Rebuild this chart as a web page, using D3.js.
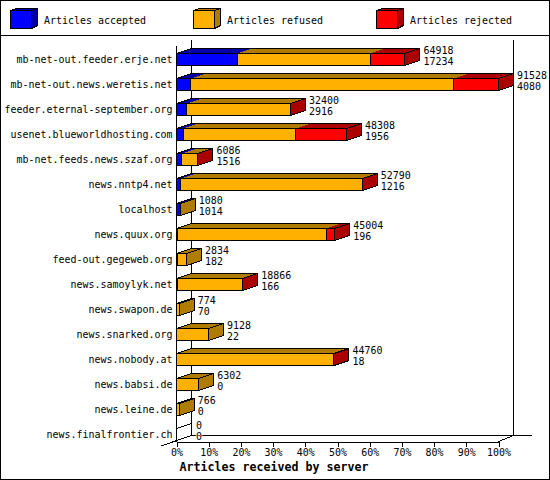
<!DOCTYPE html>
<html>
<head>
<meta charset="utf-8">
<script src="https://cdn.jsdelivr.net/npm/d3@7"></script>
<style>
    html, body { margin: 0; padding: 0; background: #fff; }
    svg { display: block; }
    text { font-family: "DejaVu Sans Mono", monospace; font-size: 11px; fill: #000; }
    .title { font-weight: bold; font-size: 12.5px; }
    .crisp { shape-rendering: crispEdges; }
</style>
</head>
<body>
<svg id="chart" width="550" height="480"></svg>
<script>
// Articles received by server, 3D stacked bars
const categories = [
    'mb-net-out.feeder.erje.net', 'mb-net-out.news.weretis.net', 'feeder.eternal-september.org',
    'usenet.blueworldhosting.com', 'mb-net.feeds.news.szaf.org', 'news.nntp4.net', 'localhost',
    'news.quux.org', 'feed-out.gegeweb.org', 'news.samoylyk.net', 'news.swapon.de',
    'news.snarked.org', 'news.nobody.at', 'news.babsi.de', 'news.leine.de', 'news.finalfrontier.ch'
];
const totals = [64918, 91528, 32400, 48308, 6086, 52790, 1080, 45004, 2834, 18866, 774, 9128, 44760, 6302, 766, 0];
const accepted = [17234, 4080, 2916, 1956, 1516, 1216, 1014, 196, 182, 166, 70, 22, 18, 0, 0, 0];
const refused = [37784, 74698, 29444, 31902, 4540, 51544, 66, 42408, 2652, 18670, 704, 9106, 44712, 6302, 766, 0];
const rejected = [9900, 12750, 40, 14450, 30, 30, 0, 2400, 0, 30, 0, 0, 30, 0, 0, 0];
const seriesNames = ['Articles accepted', 'Articles refused', 'Articles rejected'];
const seriesFill = ['#0000ff', '#ffb000', '#ff0000'];
const seriesDark = ['#0000aa', '#b07c00', '#aa0000'];
const xTicks = [0, 10, 20, 30, 40, 50, 60, 70, 80, 90, 100];

const dx = 15, dy = 5, barH = 12;
const plotLeft = 176.5, plotRight = 498.5, plotTop = 45.5, plotBottom = 441.5;

const svg = d3.select('#chart');
const maxTotal = d3.max(totals);
const x = d3.scaleLinear().domain([0, 100]).range([plotLeft, plotRight]);
const xv = d3.scaleLinear().domain([0, maxTotal]).range([plotLeft, plotRight]);
const y = d3.scalePoint().domain(categories).range([53.5, 428.5]);

const poly = pts => pts.map(p => p.join(',')).join(' ');

// outer frame and legend
const frame = svg.append('g').attr('class', 'crisp');
frame.append('rect').attr('x', 0.5).attr('y', 0.5).attr('width', 549).attr('height', 479)
    .attr('fill', '#fff').attr('stroke', '#000');
frame.append('line').attr('x1', 0).attr('x2', 550).attr('y1', 35.5).attr('y2', 35.5).attr('stroke', '#000');

const legendX = d3.scalePoint().domain(seriesNames).range([10.5, 376.5]);
const legend = svg.selectAll('.legend').data(seriesNames).join('g')
    .attr('class', 'legend crisp')
    .attr('transform', d => `translate(${legendX(d)},10.5)`);
legend.append('polygon')
    .attr('points', poly([[21, 0], [27, -2], [27, 15], [21, 18]]))
    .attr('fill', (d, i) => seriesDark[i]).attr('stroke', '#000');
legend.append('polygon')
    .attr('points', poly([[0, 0], [6, -2], [27, -2], [21, 0]]))
    .attr('fill', (d, i) => seriesDark[i]).attr('stroke', '#000');
legend.append('rect').attr('width', 21).attr('height', 18)
    .attr('fill', (d, i) => seriesFill[i]).attr('stroke', '#000');
svg.selectAll('.legend-label').data(seriesNames).join('text')
    .attr('class', 'legend-label')
    .attr('x', d => legendX(d) + 33.5)
    .attr('y', 24)
    .text(d => d);

// back and floor of the 3D box
const box = svg.append('g').attr('class', 'crisp').attr('stroke', '#000').attr('fill', 'none');
box.append('line').attr('x1', plotLeft + dx).attr('x2', plotLeft + dx).attr('y1', 40).attr('y2', plotBottom - 6);
box.append('line').attr('x1', plotRight + dx).attr('x2', plotRight + dx).attr('y1', 40).attr('y2', plotBottom - 6);
box.append('line').attr('x1', plotLeft + dx).attr('x2', 532).attr('y1', plotBottom - 6).attr('y2', plotBottom - 6);
box.append('line').attr('x1', plotLeft).attr('x2', plotLeft).attr('y1', plotTop).attr('y2', plotBottom);
svg.append('line').attr('x1', 161).attr('y1', 446).attr('x2', plotLeft + dx).attr('y2', plotBottom - 6).attr('stroke', '#000').attr('class', 'crisp');
svg.append('line').attr('x1', plotRight).attr('y1', plotBottom).attr('x2', plotRight + dx).attr('y2', plotBottom - 6).attr('stroke', '#000').attr('class', 'crisp');

// x axis
const axis = svg.append('g')
    .attr('class', 'crisp')
    .attr('transform', `translate(0,${plotBottom})`)
    .call(d3.axisBottom(x).tickValues(xTicks).tickSize(5).tickSizeOuter(0).tickPadding(2).tickFormat(d => d + '%'));
axis.attr('font-family', null).attr('font-size', null);

svg.append('text').attr('class', 'title')
    .attr('x', 274).attr('y', 471).attr('text-anchor', 'middle')
    .text('Articles received by server');

// category labels
svg.selectAll('.cat').data(categories).join('text')
    .attr('class', 'cat')
    .attr('x', 172.5)
    .attr('y', d => y(d) + 9.5)
    .attr('text-anchor', 'end')
    .text(d => d);

// bars, top one first
const bars = svg.selectAll('.bar').data(categories).join('g')
    .attr('class', 'bar crisp')
    .attr('transform', d => `translate(0,${y(d)})`);

bars.each(function (cat, i) {
    const g = d3.select(this);
    let sum = 0;
    const segs = [accepted[i], refused[i], rejected[i]].map((v, s) => {
        const seg = { s, x0: xv(sum), x1: xv(sum + v), v };
        sum += v;
        return seg;
    }).filter(d => d.v > 0);
    const end = xv(sum);
    const last = segs.length ? segs[segs.length - 1].s : 0;

    // top faces
    g.selectAll('.top').data(segs).join('polygon')
        .attr('points', d => poly([[d.x0, 0], [d.x0 + dx, -dy], [d.x1 + dx, -dy], [d.x1, 0]]))
        .attr('fill', d => seriesDark[d.s]);
    g.append('polygon')
        .attr('points', poly([[plotLeft, 0], [plotLeft + dx, -dy], [end + dx, -dy], [end, 0]]))
        .attr('fill', 'none').attr('stroke', '#000');

    if (!segs.length) return;

    // side face
    g.append('polygon')
        .attr('points', poly([[end, 0], [end + dx, -dy], [end + dx, barH - dy], [end, barH]]))
        .attr('fill', seriesDark[last]).attr('stroke', '#000');

    // front faces
    g.selectAll('.front').data(segs).join('rect')
        .attr('x', d => d.x0).attr('y', 0)
        .attr('width', d => d.x1 - d.x0).attr('height', barH)
        .attr('fill', d => seriesFill[d.s]).attr('stroke', '#000');
});

// value labels
const labels = svg.selectAll('.val').data(categories).join('g')
    .attr('class', 'val')
    .attr('transform', (d, i) => `translate(${xv(totals[i]) + dx + (totals[i] ? 3.5 : 4.5)},${y(d)})`);
labels.append('text').attr('y', 0).text((d, i) => totals[i]);
labels.append('text').attr('y', 11).text((d, i) => accepted[i])
    .attr('stroke', (d, i) => totals[i] === 0 ? '#fff' : 'none')
    .attr('stroke-width', 1.5)
    .attr('paint-order', 'stroke');

// the reference font is a narrow bitmap one: 6px per char, 7px for the title
svg.selectAll('text').each(function () {
    const t = d3.select(this);
    const w = t.classed('title') ? 7 : 6;
    t.attr('textLength', t.text().length * w).attr('lengthAdjust', 'spacingAndGlyphs');
});
</script>
</body>
</html>
